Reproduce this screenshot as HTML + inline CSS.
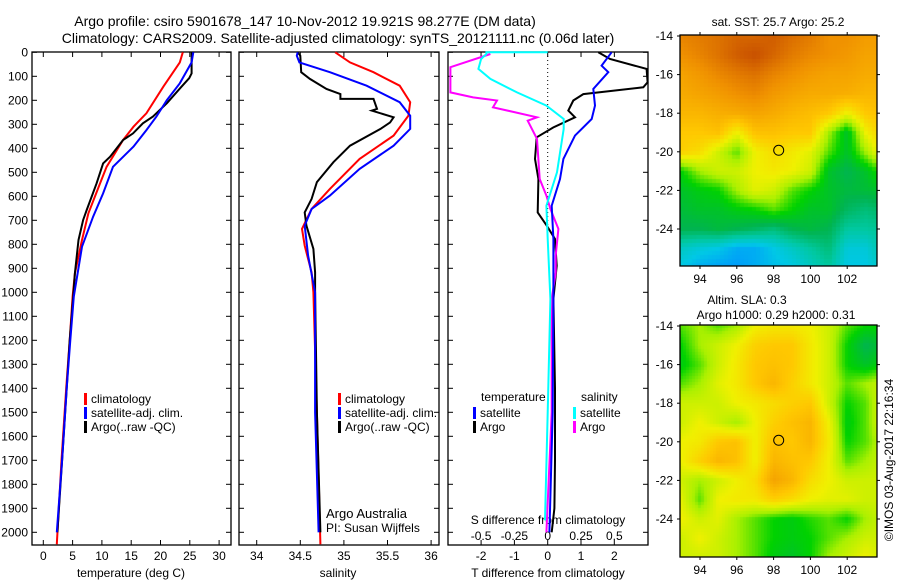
<!DOCTYPE html>
<html><head><meta charset="utf-8">
<style>
html,body{margin:0;padding:0;background:#fff;}
#wrap{position:relative;width:900px;height:580px;overflow:hidden;font-family:"Liberation Sans",sans-serif;}
canvas{position:absolute;}
svg{position:absolute;left:0;top:0;}
</style></head>
<body>
<div id="wrap">
<canvas id="sst" width="197" height="231" style="left:680px;top:35px"></canvas>
<canvas id="sla" width="197" height="232" style="left:680px;top:325px"></canvas>
<svg id="fig" width="900" height="580" font-family="Liberation Sans, sans-serif" font-size="12"></svg>
</div>
<script>
// ---- profile data: depths (m) and values ----
const tArgoD=[0,88,108,143,212,268,296,338,366,435,463,546,657,699,782,921,1018,1200,1400,1700,2000];
const tArgoV=[25.3,25.3,24.9,23.6,21.1,18.7,17.0,15.3,13.6,11.4,10.2,9.1,7.4,6.8,6.0,5.4,5.1,4.5,4.0,3.2,2.4];
const tClimD=[0,42,143,254,310,366,477,546,671,782,921,1018,1200,1400,1700,2050];
const tClimV=[23.8,23.3,20.5,17.6,15.4,13.6,10.8,9.7,7.7,6.6,5.4,5.0,4.5,3.9,3.1,2.3];
const tSatD=[0,42,129,199,268,324,393,477,588,685,810,1018,1200,1400,1700,2000];
const tSatV=[25.6,25.3,23.3,21.1,19.3,17.6,15.4,11.9,10.2,8.5,6.6,5.2,4.6,4.0,3.2,2.3];

const sArgoD=[0,14,83,111,153,174,194,194,236,243,271,292,319,389,458,541,611,667,722,819,917,1000,1500,2000];
const sArgoV=[34.47,34.5,34.51,34.61,34.80,34.96,34.96,35.34,35.38,35.32,35.57,35.53,35.42,35.07,34.88,34.69,34.63,34.55,34.57,34.65,34.67,34.67,34.69,34.73];
const sClimD=[0,42,83,139,208,264,347,444,569,653,736,806,917,1000,1500,2050];
const sClimV=[34.90,35.07,35.34,35.64,35.76,35.74,35.57,35.18,34.84,34.63,34.52,34.55,34.63,34.65,34.69,34.73];
const sSatD=[0,14,42,83,139,208,264,319,389,486,597,653,722,847,1000,1500,2000];
const sSatV=[34.47,34.46,34.49,34.84,35.26,35.64,35.76,35.76,35.57,35.18,34.84,34.63,34.55,34.59,34.67,34.67,34.71];

const dtArgoD=[0,28,69,125,146,174,201,243,271,313,354,444,528,667,722,778,889,1028,1400,1700,1900,2000];
const dtArgoV=[1.52,1.87,2.97,3.0,2.87,1.07,0.77,0.62,0.82,0.17,-0.33,-0.38,-0.28,-0.30,-0.03,0.22,0.27,0.17,0.22,0.22,0.2,0.12];
const dtSatD=[0,56,83,153,222,278,347,444,528,639,778,1028,1500,2000];
const dtSatV=[1.92,1.62,1.82,1.37,1.42,1.32,0.82,0.47,0.37,0.12,0.17,0.17,0.15,0.05];
const dsArgoD=[7,62,167,188,201,229,271,285,361,528,597,653,736,847,917,1028,1500,2000];
const dsArgoV=[-0.43,-0.73,-0.73,-0.56,-0.38,-0.41,-0.08,-0.15,-0.08,-0.06,-0.01,0.02,0.08,0.06,0.06,0.03,0.03,-0.01];
const dsSatD=[0,0,7,28,69,111,167,222,278,319,500,639,778,1028,1500,1950];
const dsSatV=[0,-0.46,-0.46,-0.50,-0.52,-0.43,-0.23,-0.01,0.12,0.12,0.07,-0.01,0.0,0.02,0.0,-0.02];

const depthTicks=[0,100,200,300,400,500,600,700,800,900,1000,1100,1200,1300,1400,1500,1600,1700,1800,1900,2000];
const tempTicks=[0,5,10,15,20,25,30];
const salTicks=[34,34.5,35,35.5,36];
const dtTicks=[-2,-1,0,1,2];
const dsTicks=[-0.5,-0.25,0,0.25,0.5];
const lonTicks=[94,96,98,100,102];
const latTicks=[-14,-16,-18,-20,-22,-24];

// ---- map grids (normalized colour values), rows lat -14..-26, cols lon 93..104 ----
const sstGrid=[
[0.88,0.9,0.92,0.95,0.95,0.97,0.93,0.9,0.85,0.85,0.82,0.82],
[0.85,0.88,0.92,0.97,1.0,0.95,0.9,0.87,0.85,0.83,0.8,0.8],
[0.8,0.83,0.87,0.9,0.92,0.88,0.85,0.82,0.8,0.8,0.78,0.78],
[0.78,0.8,0.82,0.85,0.87,0.83,0.8,0.78,0.78,0.77,0.75,0.75],
[0.75,0.75,0.77,0.78,0.8,0.78,0.75,0.73,0.7,0.6,0.7,0.72],
[0.7,0.7,0.72,0.6,0.72,0.72,0.7,0.7,0.5,0.35,0.6,0.7],
[0.68,0.65,0.55,0.45,0.6,0.65,0.62,0.58,0.45,0.35,0.5,0.65],
[0.4,0.5,0.55,0.55,0.6,0.62,0.6,0.55,0.35,0.3,0.35,0.45],
[0.35,0.38,0.4,0.5,0.58,0.55,0.45,0.4,0.35,0.32,0.33,0.35],
[0.33,0.35,0.35,0.38,0.4,0.45,0.4,0.35,0.35,0.28,0.25,0.28],
[0.3,0.3,0.32,0.3,0.28,0.25,0.3,0.32,0.3,0.2,0.2,0.22],
[0.15,0.12,0.1,0.05,0.05,0.1,0.15,0.2,0.25,0.12,0.12,0.2],
[0.1,0.05,0.03,0.02,0.05,0.08,0.1,0.15,0.2,0.1,0.1,0.15]];
const slaGrid=[
[0.45,0.5,0.45,0.5,0.6,0.62,0.62,0.6,0.55,0.45,0.4,0.4],
[0.4,0.5,0.55,0.6,0.68,0.7,0.7,0.62,0.55,0.4,0.3,0.35],
[0.38,0.45,0.55,0.62,0.7,0.72,0.7,0.62,0.55,0.4,0.35,0.4],
[0.45,0.5,0.58,0.62,0.7,0.75,0.68,0.62,0.55,0.45,0.5,0.55],
[0.55,0.55,0.55,0.6,0.62,0.65,0.68,0.7,0.55,0.4,0.45,0.6],
[0.55,0.6,0.55,0.5,0.6,0.68,0.72,0.75,0.6,0.38,0.45,0.6],
[0.6,0.62,0.7,0.72,0.6,0.72,0.7,0.75,0.62,0.4,0.45,0.55],
[0.6,0.68,0.75,0.72,0.6,0.75,0.72,0.7,0.6,0.45,0.5,0.55],
[0.55,0.5,0.55,0.6,0.65,0.8,0.75,0.65,0.6,0.55,0.55,0.55],
[0.58,0.45,0.6,0.62,0.62,0.68,0.65,0.6,0.58,0.58,0.55,0.55],
[0.6,0.55,0.58,0.5,0.45,0.4,0.38,0.42,0.45,0.4,0.5,0.55],
[0.55,0.6,0.55,0.5,0.45,0.4,0.38,0.4,0.45,0.5,0.55,0.55],
[0.55,0.55,0.55,0.5,0.45,0.38,0.35,0.4,0.5,0.55,0.6,0.55]];
const argoLon=98.277, argoLat=-19.921;

// ---- scales ----
const yD=d=>52.3+d*0.24;
const xT=t=>43.3+t*5.86;
const xS=s=>256.7+(s-34)*87.2;
const xDT=v=>547.7+v*33.3;
const xDS=v=>547.7+v*133.3;
const xLon=l=>681.6+(l-93)*18.4;
const yLatTop=l=>36+(-14-l)*19.3;
const yLatBot=l=>326+(-14-l)*19.3;

const NS='http://www.w3.org/2000/svg';
const svg=document.getElementById('fig');
function mk(tag,attrs,parent){const e=document.createElementNS(NS,tag);for(const k in attrs)e.setAttribute(k,attrs[k]);(parent||svg).appendChild(e);return e;}
function txt(x,y,s,anchor,parent,size){const e=mk('text',{x:x,y:y,'text-anchor':anchor||'start','font-size':size||12,fill:'#000'},parent);e.textContent=s;return e;}

// titles
let t1=txt(305,26,'Argo profile: csiro 5901678_147 10-Nov-2012 19.921S 98.277E (DM data)','middle',null,14);


let t2=txt(338,43,'Climatology: CARS2009. Satellite-adjusted climatology: synTS_20121111.nc (0.06d later)','middle',null,14);



function panel(x0,x1,name){
  const g=mk('g',{});
  
  
  mk('rect',{x:x0,y:52,width:x1-x0,height:493,fill:'none',stroke:'#000','stroke-width':1.3},g);
  depthTicks.forEach(d=>{mk('line',{x1:x0,x2:x0+5,y1:yD(d),y2:yD(d),stroke:'#000'},g);mk('line',{x1:x1-5,x2:x1,y1:yD(d),y2:yD(d),stroke:'#000'},g);});
  return g;
}
function line(D,V,xf,color,parent,name){
  const p=mk('polyline',{points:D.map((d,i)=>xf(V[i]).toFixed(1)+','+yD(d).toFixed(1)).join(' '),fill:'none',stroke:color,'stroke-width':2},parent);
  
  
}
function legend(x,y,items,parent){
  items.forEach((it,i)=>{mk('rect',{x:x,y:y+i*14-10,width:3,height:12,fill:it[0]},parent);txt(x+7,y+i*14,it[1],'start',parent);});
}

// panel 1: temperature
const g1=panel(32,231,'temperature-panel');
depthTicks.forEach(d=>txt(28,yD(d)+4,String(d),'end',g1));
tempTicks.forEach(t=>{mk('line',{x1:xT(t),x2:xT(t),y1:545,y2:540,stroke:'#000'},g1);mk('line',{x1:xT(t),x2:xT(t),y1:52,y2:57,stroke:'#000'},g1);txt(xT(t),560,String(t),'middle',g1);});
txt(131,577,'temperature (deg C)','middle',g1);
line(tClimD,tClimV,xT,'#f00',g1,'temp-climatology-line');
line(tArgoD,tArgoV,xT,'#000',g1,'temp-argo-line');
line(tSatD,tSatV,xT,'#00f',g1,'temp-satellite-line');
legend(84,403,[['#f00','climatology'],['#00f','satellite-adj. clim.'],['#000','Argo(..raw -QC)']],g1);

// panel 2: salinity
const g2=panel(239,439,'salinity-panel');
salTicks.forEach(s=>{mk('line',{x1:xS(s),x2:xS(s),y1:545,y2:540,stroke:'#000'},g2);mk('line',{x1:xS(s),x2:xS(s),y1:52,y2:57,stroke:'#000'},g2);txt(xS(s),560,String(s),'middle',g2);});
txt(338,577,'salinity','middle',g2);
line(sClimD,sClimV,xS,'#f00',g2,'sal-climatology-line');
line(sArgoD,sArgoV,xS,'#000',g2,'sal-argo-line');
line(sSatD,sSatV,xS,'#00f',g2,'sal-satellite-line');
legend(338,403,[['#f00','climatology'],['#00f','satellite-adj. clim.'],['#000','Argo(..raw -QC)']],g2);
txt(326,518,'Argo Australia','start',g2,13);
txt(326,532,'PI: Susan Wijffels','start',g2,12);

// panel 3: differences
const g3=panel(448,648,'difference-panel');
mk('line',{x1:xDT(0),x2:xDT(0),y1:52,y2:yD(720),stroke:'#000','stroke-dasharray':'1,3'},g3);
dtTicks.forEach(v=>{mk('line',{x1:xDT(v),x2:xDT(v),y1:545,y2:540,stroke:'#000'},g3);txt(xDT(v),560,String(v),'middle',g3);});
dsTicks.forEach(v=>{mk('line',{x1:xDS(v),x2:xDS(v),y1:52,y2:57,stroke:'#000'},g3);txt(xDS(v),540,v<0?'-'+String(-v):String(v),'middle',g3);});
txt(548,524,'S difference from climatology','middle',g3);
txt(548,577,'T difference from climatology','middle',g3);
line(dtArgoD,dtArgoV,xDT,'#000',g3,'dT-argo-line');
line(dsArgoD,dsArgoV,xDS,'#f0f',g3,'dS-argo-line');
line(dsSatD,dsSatV,xDS,'#0ff',g3,'dS-satellite-line');
line(dtSatD,dtSatV,xDT,'#00f',g3,'dT-satellite-line');
txt(481,401,'temperature','start',g3);
legend(473,417,[['#00f','satellite'],['#000','Argo']],g3);
txt(581,401,'salinity','start',g3);
legend(573,417,[['#0ff','satellite'],['#f0f','Argo']],g3);

// maps
const stops=[[0,[0,144,255]],[0.1,[0,200,230]],[0.2,[0,200,160]],[0.3,[0,180,80]],[0.4,[0,210,0]],[0.5,[170,240,0]],[0.6,[240,240,0]],[0.7,[255,200,0]],[0.85,[240,145,0]],[1,[200,80,0]]];
function cmap(v){v=Math.max(0,Math.min(1,v));for(let i=1;i<stops.length;i++){if(v<=stops[i][0]){const a=stops[i-1],b=stops[i],f=(v-a[0])/(b[0]-a[0]);return 'rgb('+a[1].map((c,k)=>Math.round(c+(b[1][k]-c)*f)).join(',')+')';}}return 'rgb(200,80,0)';}
function sample(G,lon,lat){const c=Math.max(0,Math.min(10.999,lon-93)),r=Math.max(0,Math.min(11.999,-14-lat));const c0=Math.floor(c),r0=Math.floor(r),fc=c-c0,fr=r-r0;
 return G[r0][c0]*(1-fc)*(1-fr)+G[r0][c0+1]*fc*(1-fr)+G[r0+1][c0]*(1-fc)*fr+G[r0+1][c0+1]*fc*fr;}
function drawMap(id,G,block,y0){const cv=document.getElementById(id),ctx=cv.getContext('2d');
 for(let py=0;py<cv.height;py+=block)for(let px=0;px<cv.width;px+=block){const lon=93+(px+680+block/2-681.6)/18.4,lat=-14-(py+y0+block/2-(y0+1))/19.3;ctx.fillStyle=cmap(sample(G,lon,lat));ctx.fillRect(px,py,block,block);}}
drawMap('sst',sstGrid,4,35);
drawMap('sla',slaGrid,3,325);

function mapFrame(yTop,h,yLat,name){
  const g=mk('g',{});
  
  
  mk('rect',{x:680,y:yTop,width:197,height:h,fill:'none',stroke:'#000','stroke-width':1.3},g);
  lonTicks.forEach(l=>{mk('line',{x1:xLon(l),x2:xLon(l),y1:yTop-3,y2:yTop,stroke:'#000'},g);mk('line',{x1:xLon(l),x2:xLon(l),y1:yTop+h,y2:yTop+h+3,stroke:'#000'},g);txt(xLon(l),yTop+h+17,String(l),'middle',g);});
  latTicks.forEach(l=>{mk('line',{x1:677,x2:680,y1:yLat(l),y2:yLat(l),stroke:'#000'},g);mk('line',{x1:877,x2:880,y1:yLat(l),y2:yLat(l),stroke:'#000'},g);txt(673,yLat(l)+4,String(l),'end',g);});
  const c=mk('circle',{cx:xLon(argoLon),cy:yLat(argoLat),r:5,fill:'none',stroke:'#000'},g);
  
  
  return g;
}
const gm1=mapFrame(35,231,yLatTop,'sst-map-frame');
txt(778,26,'sat. SST: 25.7 Argo: 25.2','middle',gm1);
const gm2=mapFrame(325,232,yLatBot,'sla-map-frame');
txt(747,304,'Altim. SLA: 0.3','middle',gm2);
txt(776,319,'Argo h1000: 0.29 h2000: 0.31','middle',gm2);
const cr=txt(0,0,'©IMOS 03-Aug-2017 22:16:34','middle',null,12);
cr.setAttribute('transform','translate(893,460) rotate(-90)');


</script>
</body></html>
